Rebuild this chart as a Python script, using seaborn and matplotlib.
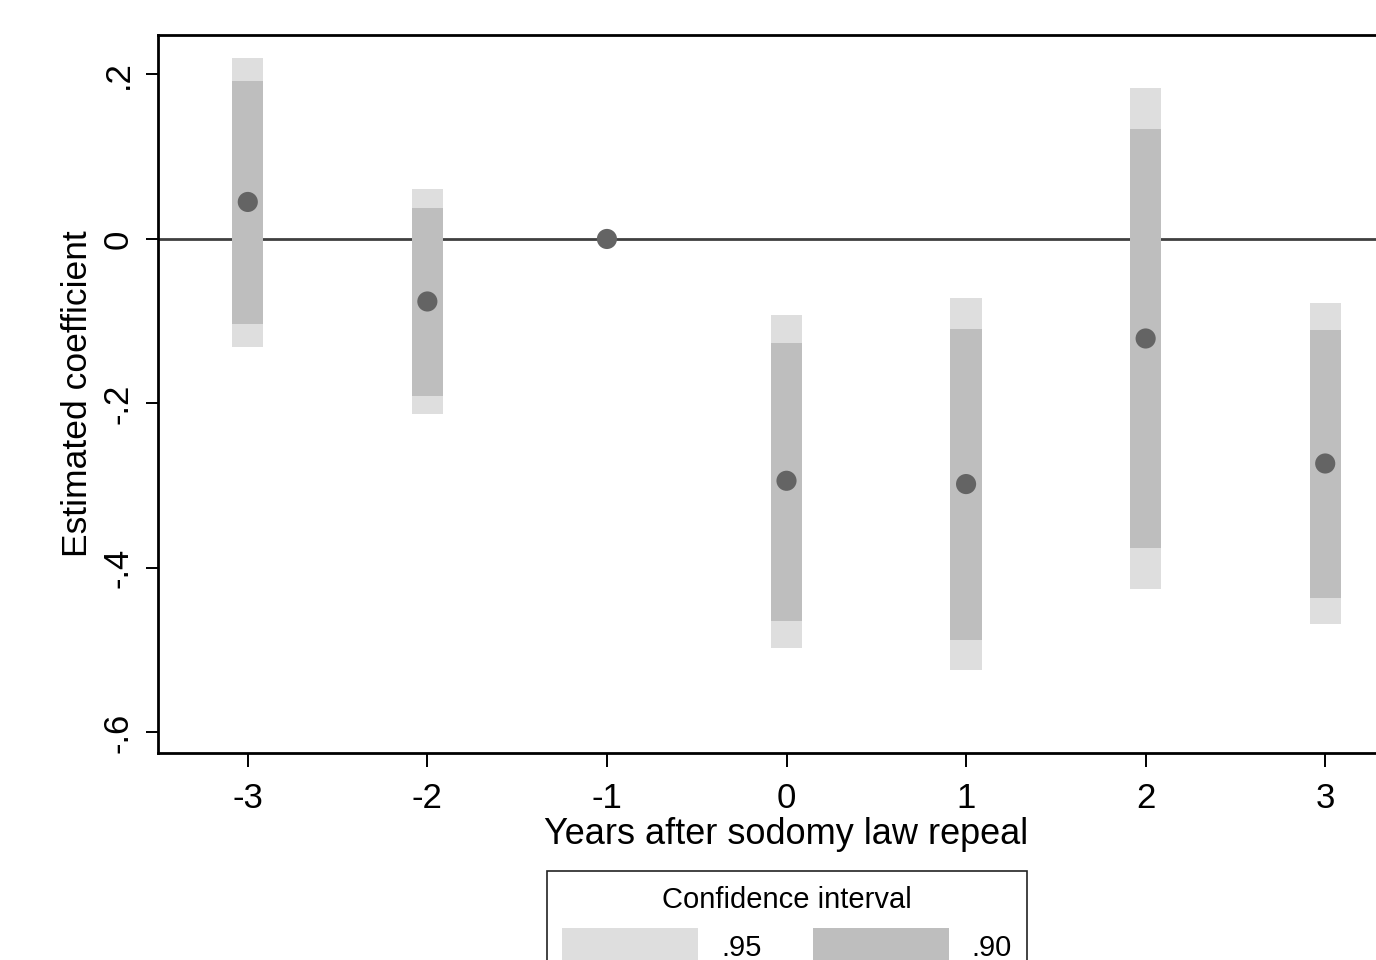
import matplotlib
matplotlib.use('Agg')
import matplotlib.pyplot as plt
from matplotlib.patches import Patch
import seaborn as sns
import pandas as pd

# ==================================================
# DATA
# ==================================================
years = [-3, -2, -1, 0, 1, 2, 3]
coef = [0.045, -0.076, 0.0, -0.294, -0.298, -0.121, -0.273]
ci95_lo = [-0.131, -0.213, None, -0.497, -0.524, -0.426, -0.468]
ci95_hi = [0.220, 0.061, None, -0.092, -0.072, 0.184, -0.078]
ci90_lo = [-0.103, -0.191, None, -0.464, -0.488, -0.376, -0.436]
ci90_hi = [0.192, 0.038, None, -0.126, -0.109, 0.134, -0.111]

df = pd.DataFrame({'year': years, 'coef': coef,
                   'lo95': ci95_lo, 'hi95': ci95_hi,
                   'lo90': ci90_lo, 'hi90': ci90_hi})
ci = df.dropna()

# ==================================================
# PLOT
# ==================================================
sns.set_theme(style='white')
plt.rcParams['font.family'] = ['Liberation Sans', 'DejaVu Sans']
plt.rcParams['text.color'] = 'black'

c95 = '#dedede'
c90 = '#bebebe'
cpt = '#646464'

fig = plt.figure(figsize=(13.76, 9.60), dpi=100)
ax = fig.add_axes([158 / 1376, 1 - 753 / 960, (1415 - 158) / 1376, (753 - 35) / 960])

ax.axhline(0, color='#404040', lw=2.0, zorder=1)
ax.bar(ci['year'], ci['hi95'] - ci['lo95'], bottom=ci['lo95'], width=0.175,
       color=c95, edgecolor='none', linewidth=0, zorder=2)
ax.bar(ci['year'], ci['hi90'] - ci['lo90'], bottom=ci['lo90'], width=0.175,
       color=c90, edgecolor='none', linewidth=0, zorder=3)
sns.scatterplot(data=df, x='year', y='coef', ax=ax, color=cpt, s=210,
                edgecolor='none', zorder=4, legend=False)

ax.set_xlim(-3.5, 3.5)
ax.set_ylim(-0.625, 0.248)
ax.set_xticks(years)
ax.set_xticklabels([str(y) for y in years])
ax.set_yticks([-0.6, -0.4, -0.2, 0, 0.2])
ax.set_yticklabels(['-.6', '-.4', '-.2', '0', '.2'], rotation=90, va='center')

ax.tick_params(axis='both', which='both', direction='out', color='black',
               width=1.4, labelsize=25, labelcolor='black')
ax.tick_params(axis='x', length=10, pad=11, bottom=True)
ax.tick_params(axis='y', length=9, pad=8, left=True)

for side in ['left', 'bottom', 'top']:
    ax.spines[side].set_color('black')
    ax.spines[side].set_linewidth(2)
ax.spines['right'].set_visible(False)

ax.set_xlabel('Years after sodomy law repeal', fontsize=26, color='black', labelpad=1)
ax.set_ylabel('Estimated coefficient', fontsize=25.5, color='black', labelpad=5)

handles = [Patch(facecolor=c95, edgecolor='none', label='.95'),
           Patch(facecolor=c90, edgecolor='none', label='.90')]
leg = fig.legend(handles=handles, title='Confidence interval', ncol=2,
                 loc='upper center', bbox_to_anchor=(787 / 1376, 1 - 871 / 960),
                 fontsize=21, title_fontsize=21, frameon=True, fancybox=False,
                 edgecolor='#222222', handlelength=4.66, handleheight=1.5,
                 columnspacing=1.75, borderpad=0.5, handletextpad=0.8,
                 borderaxespad=0, framealpha=1, labelcolor='black')
leg.get_title().set_color('black')
leg.get_frame().set_linewidth(1.2)

plt.savefig('out.png', dpi=100)
